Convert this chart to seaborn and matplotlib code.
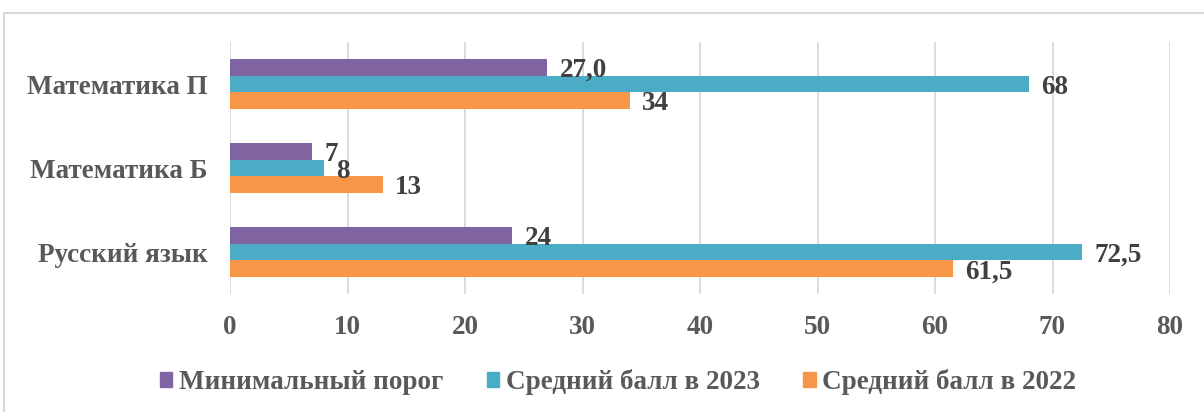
import matplotlib
matplotlib.use("Agg")
import matplotlib.pyplot as plt
import matplotlib.patches as mpatches
import pandas as pd
import seaborn as sns

categories = ["Математика П", "Математика Б", "Русский язык"]
series = ["Минимальный порог", "Средний балл в 2023", "Средний балл в 2022"]
min_threshold = [27.0, 7, 24]
avg_2023 = [68, 8, 72.5]
avg_2022 = [34, 13, 61.5]
label_texts = [["27,0", "7", "24"], ["68", "8", "72,5"], ["34", "13", "61,5"]]
colors = ["#8064A2", "#4BACC6", "#F79646"]

df = pd.DataFrame({
    "Предмет": categories * 3,
    "Серия": [series[0]] * 3 + [series[1]] * 3 + [series[2]] * 3,
    "Балл": min_threshold + avg_2023 + avg_2022,
})

plt.rcParams["font.family"] = ["Liberation Serif", "DejaVu Serif"]
plt.rcParams["font.weight"] = "bold"

fig = plt.figure(figsize=(12.04, 4.12), dpi=100)
ax = fig.add_axes([230 / 1204, 1 - 294 / 412, 940 / 1204, 252 / 412])

sns.barplot(data=df, y="Предмет", x="Балл", hue="Серия", order=categories,
            hue_order=series, palette=colors, width=0.6, orient="h",
            saturation=1, legend=False, ax=ax)

# подписи значений чуть ниже центра полосы, как в Excel
for cont, labs in zip(ax.containers, label_texts):
    txts = ax.bar_label(cont, labels=labs, padding=9, fontsize=19.5,
                        fontweight="bold", color="#404040")
    for t in txts:
        t.set_va("center_baseline")

ax.set_xlim(0, 80)
ax.set_ylim(2.5, -0.5)
ax.set_xticks(range(0, 81, 10))
ax.grid(axis="x", color="#D9D9D9", linewidth=1.3)
ax.set_axisbelow(True)
for s in ax.spines.values():
    s.set_visible(False)
ax.tick_params(axis="both", length=0, labelsize=19.5, labelcolor="#595959")
ax.tick_params(axis="y", pad=16)
ax.tick_params(axis="x", pad=15)
ax.set_xlabel("")
ax.set_ylabel("")

handles = [mpatches.Patch(color=c, label=s) for c, s in zip(colors, series)]
fig.legend(handles=handles, loc="center", bbox_to_anchor=(618 / 1204, 1 - 382 / 412),
           ncol=3, frameon=False, fontsize=19.5, handlelength=0.46, handleheight=0.46,
           handletextpad=0.25, columnspacing=1.6, labelcolor="#595959")

fig.patches.append(mpatches.Rectangle((4 / 1204, -0.1), 1.1, 1 - 13 / 412 + 0.1,
                                      transform=fig.transFigure, fill=False,
                                      edgecolor="#D9D9D9", linewidth=1.5))

fig.savefig("out.png", dpi=100)
